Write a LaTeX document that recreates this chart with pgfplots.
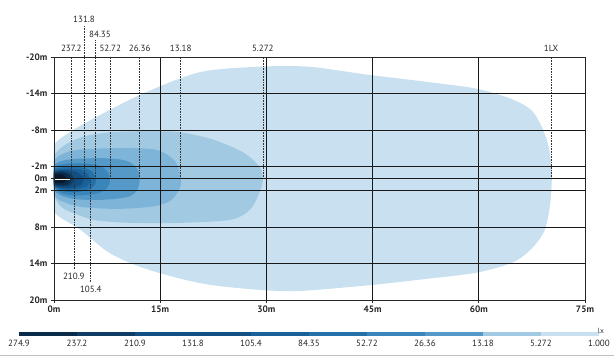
\documentclass[border=0pt]{standalone}
\usepackage{pgfplots}
\pgfplotsset{compat=1.18}
\usepackage{fontspec}
\setmainfont{PT Sans}
\definecolor{c1}{HTML}{C8E0EF}
\definecolor{c2}{HTML}{A2C9E2}
\definecolor{c3}{HTML}{7DB4D8}
\definecolor{c4}{HTML}{5499C8}
\definecolor{c5}{HTML}{3A86BB}
\definecolor{c6}{HTML}{2471AA}
\definecolor{c7}{HTML}{1A6199}
\definecolor{c8}{HTML}{125083}
\definecolor{c9}{HTML}{0E3C64}
\definecolor{c10}{HTML}{0B2B4B}
\definecolor{c11}{HTML}{08192E}
\begin{document}
\begin{tikzpicture}
\useasboundingbox (-54pt,-57pt) rectangle (560pt,300pt);
\begin{axis}[at={(0pt,0pt)}, anchor=south west, scale only axis,
  width=531pt, height=243pt,
  xmin=0, xmax=75, ymin=-20, ymax=20, y dir=reverse,
  xtick={0,15,30,45,60,75}, xticklabels={0m,15m,30m,45m,60m,75m},
  ytick={-20,-14,-8,-2,0,2,8,14,20},
  yticklabels={-20m,-14m,-8m,-2m,0m,2m,8m,14m,20m},
  grid=major, major grid style={black!90, line width=0.7pt},
  axis line style={black!85, line width=0.8pt},
  tick style={black!85, line width=0.7pt}, tick align=outside,
  major tick length=2.5pt, tick pos=left,
  axis on top, clip mode=individual,
  tick label style={font=\bfseries\fontsize{9.3}{11}\selectfont, text=black!85},
  yticklabel style={xshift=-0.5pt},
]
\addplot[draw=none, fill=c1, smooth cycle] coordinates {
 (-2,0) (0,-5.5) (2.5,-7.8) (6.1,-10.2) (12.6,-14) (20.6,-17.5) (29,-18.4) (36,-18.4)
 (44.2,-17.1) (52,-16) (59.6,-14.8) (64.8,-13) (67.7,-10.9) (69.6,-6.4) (70.3,-1.5)
 (70.1,4) (69.3,8.5) (67.5,11.5) (64.8,13.8) (59.7,15.5) (52,16.6) (44.2,17.6)
 (34.7,18.5) (28.7,18.3) (21,17.3) (13.3,15) (7.9,12.3) (3.7,8.4) (0,5.5)};
\addplot[draw=none, fill=c2, smooth cycle] coordinates {
 (-1,0) (0,-3.8) (1.8,-5.7) (4.5,-7) (8,-7.6) (13,-7.8) (17.8,-7.6) (22.5,-6.4)
 (26.7,-4.3) (29,-2) (29.5,0) (29.1,2.1) (27.7,5.1) (24.9,6.8) (17.8,7.3) (11,7.3)
 (6,6.9) (3,5.8) (0.8,4.4)};
\addplot[draw=none, fill=c3, smooth cycle] coordinates {
 (-0.5,0) (0,-2.9) (1.5,-4.2) (4,-4.8) (10,-5) (14.5,-4.7) (17,-3) (17.9,-0.5)
 (17.8,1.5) (16.5,3.6) (14,4.6) (9,5) (4,4.7) (1.2,3.8) (0,2.7)};
\addplot[draw=none, fill=c4, smooth cycle] coordinates {
 (-0.5,0) (0,-2.2) (1.5,-3) (4,-3.3) (8,-3.3) (10.5,-2.8) (11.8,-1.5) (12.1,0)
 (11.8,1.8) (10.5,3) (7,3.5) (3,3.4) (0.8,2.7) (0,1.8)};
\addplot[draw=none, fill=c5, smooth cycle] coordinates {
 (-0.5,0) (0,-1.8) (1.5,-2.4) (4,-2.5) (6.5,-2.1) (7.6,-1) (7.9,0.3) (7.5,1.6)
 (6,2.5) (3,2.8) (1,2.4) (0,1.5)};
\addplot[draw=none, fill=c6, smooth cycle] coordinates {
 (-0.3,0) (0,-1.5) (1.5,-1.9) (3.5,-1.9) (5.2,-1.3) (5.9,0) (5.6,1.3) (4,2.1)
 (2,2.2) (0.5,1.7)};
\addplot[draw=none, fill=c7, smooth cycle] coordinates {
 (-0.3,0) (0,-1.3) (1.5,-1.6) (3.5,-1.5) (4.7,-0.8) (5.1,0.2) (4.7,1.2) (3,1.8)
 (1.2,1.8) (0,1.3)};
\addplot[draw=none, fill=c8, smooth cycle] coordinates {
 (-0.3,0) (0,-1.1) (1.5,-1.4) (3.2,-1.1) (4.2,0) (3.8,1.1) (2.2,1.6) (0.8,1.5) (0,1.1)};
\addplot[draw=none, fill=c9, smooth cycle] coordinates {
 (-0.3,0) (0,-0.95) (1.2,-1.2) (2.4,-0.8) (2.8,0.2) (2.3,1.1) (1.2,1.35) (0,1)};
\addplot[draw=none, fill=c10, smooth cycle] coordinates {
 (-0.3,0) (0,-0.8) (1.1,-1) (2.1,-0.6) (2.4,0.1) (2,0.9) (1,1.1) (0,0.8)};
\addplot[draw=none, fill=c11, smooth cycle] coordinates {
 (-0.3,0) (0,-0.6) (0.9,-0.7) (1.6,-0.35) (1.8,0.15) (1.4,0.65) (0.7,0.8) (0,0.6)};
\addplot[white, line width=2pt] coordinates {(0,0) (2.3,0)};
% reference lines
\tikzset{refl/.style={densely dotted, black!80, line width=0.6pt},
         refn/.style={font=\fontsize{9}{10}\selectfont, text=black!85}}
\draw[refl] (axis cs:2.45,0) -- (axis cs:2.45,-20);
\draw[refl] (axis cs:4.24,0) -- (axis cs:4.24,-20) -- ++(0pt,32pt);
\draw[refl] (axis cs:5.89,0) -- (axis cs:5.89,-20) -- ++(0pt,17pt);
\draw[refl] (axis cs:7.95,0) -- (axis cs:7.95,-20);
\draw[refl] (axis cs:12.1,0) -- (axis cs:12.1,-20);
\draw[refl] (axis cs:17.9,0) -- (axis cs:17.9,-20);
\draw[refl] (axis cs:29.5,0) -- (axis cs:29.5,-20);
\draw[refl] (axis cs:70.2,0) -- (axis cs:70.2,-20);
\draw[refl] (axis cs:2.8,0.3) -- (axis cs:2.8,15);
\draw[refl] (axis cs:5.1,0.3) -- (axis cs:5.1,17.1);
\node[refn] at (axis cs:4.24,-20) [yshift=38pt] {131.8};
\node[refn] at (axis cs:6.5,-20) [yshift=23pt] {84.35};
\node[refn] at (axis cs:2.45,-20) [yshift=8.5pt] {237.2};
\node[refn] at (axis cs:7.95,-20) [yshift=8.5pt] {52.72};
\node[refn] at (axis cs:12.1,-20) [yshift=8.5pt] {26.36};
\node[refn] at (axis cs:17.9,-20) [yshift=8.5pt] {13.18};
\node[refn] at (axis cs:29.5,-20) [yshift=8.5pt] {5.272};
\node[refn] at (axis cs:70.2,-20) [yshift=8.5pt] {1LX};
\node[refn] at (axis cs:2.8,16.1) {210.9};
\node[refn] at (axis cs:5.2,18.2) {105.4};
\end{axis}
% colour key
\foreach \c [count=\i from 0] in {c10,c9,c8,c8,c7,c6,c5,c4,c2,c1} {
  \fill[\c] ({-35pt+\i*58pt},-31.5pt) rectangle ({-35pt+(\i+1)*58pt},-36pt);
}
\foreach \t [count=\i from 0] in {274.9,237.2,210.9,131.8,105.4,84.35,52.72,26.36,13.18,5.272,1.000} {
  \node[font=\fontsize{9}{10}\selectfont, text=black!85] at ({-35pt+\i*58pt},-43.5pt) {\t};
}
\node[font=\fontsize{7.5}{8}\selectfont, text=black!80] at (547pt,-31pt) {lx};
\draw[black!25, line width=1.2pt] (-54pt,-55.5pt) -- (560pt,-55.5pt);
\end{tikzpicture}
\end{document}
